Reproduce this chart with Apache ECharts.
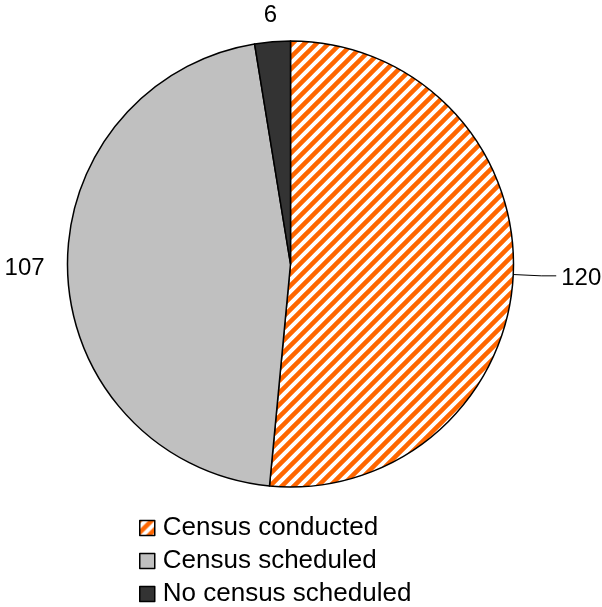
<!DOCTYPE html>
<html>
<head>
<meta charset="utf-8">
<script src="https://cdn.jsdelivr.net/npm/echarts@6/dist/echarts.min.js"></script>
<style>
  html, body { margin: 0; padding: 0; background: #fff; }
  #chart { width: 602px; height: 607px; }
</style>
</head>
<body>
<div id="chart"></div>
<script>
const categories = ['Census conducted', 'Census scheduled', 'No census scheduled'];
const values = [120, 107, 6];

const FONT = '"Liberation Sans", Arial, sans-serif';

function stripePattern() {
  const s = 12;
  const c = document.createElement('canvas');
  c.width = s; c.height = s;
  const g = c.getContext('2d');
  g.fillStyle = '#ffffff';
  g.fillRect(0, 0, s, s);
  g.strokeStyle = '#FF6600';
  g.lineWidth = 4.5;
  g.beginPath();
  [0, s, 2 * s].forEach(function (k) {
    g.moveTo(-3, k + 3);
    g.lineTo(k + 3, -3);
  });
  g.stroke();
  return { image: c, repeat: 'repeat' };
}

const fills = [stripePattern(), '#C0C0C0', '#333333'];
const labelLines = [
  { show: true, length: 28, length2: 15, lineStyle: { color: '#000', width: 1 } },
  { show: false, length: 10, length2: 8 },
  { show: false, length: 26, length2: 0 }
];
const labelShifts = [
  { dy: 3 },
  { dy: -3 },
  { align: 'center', dx: 5 }
];

const chart = echarts.init(document.getElementById('chart'), null, { renderer: 'canvas' });

const data = categories.map(function (name, i) {
  return {
    name: name,
    value: values[i],
    itemStyle: { color: fills[i] },
    labelLine: labelLines[i],
    label: { width: 50 }
  };
});

chart.setOption({
  animation: false,
  backgroundColor: '#ffffff',
  legend: {
    orient: 'vertical',
    left: 134,
    top: 510,
    height: 110,
    width: 450,
    itemWidth: 15,
    itemHeight: 15,
    itemGap: 7,
    icon: 'rect',
    selectedMode: false,
    data: categories,
    itemStyle: { borderColor: '#000', borderWidth: 1.5 },
    textStyle: { fontSize: 26, lineHeight: 26, color: '#000', fontFamily: FONT, padding: [0, 0, 0, 3] }
  },
  series: [{
    type: 'pie',
    center: [290.5, 264],
    radius: 223,
    startAngle: 90,
    clockwise: true,
    avoidLabelOverlap: false,
    silent: true,
    itemStyle: { borderColor: '#000', borderWidth: 1.5 },
    label: {
      show: true,
      position: 'outside',
      formatter: '{c}',
      color: '#000',
      fontSize: 24,
      fontFamily: FONT,
      bleedMargin: 0
    },
    labelLayout: function (p) {
      return labelShifts[p.dataIndex] || {};
    },
    data: data
  }]
});
</script>
</body>
</html>
